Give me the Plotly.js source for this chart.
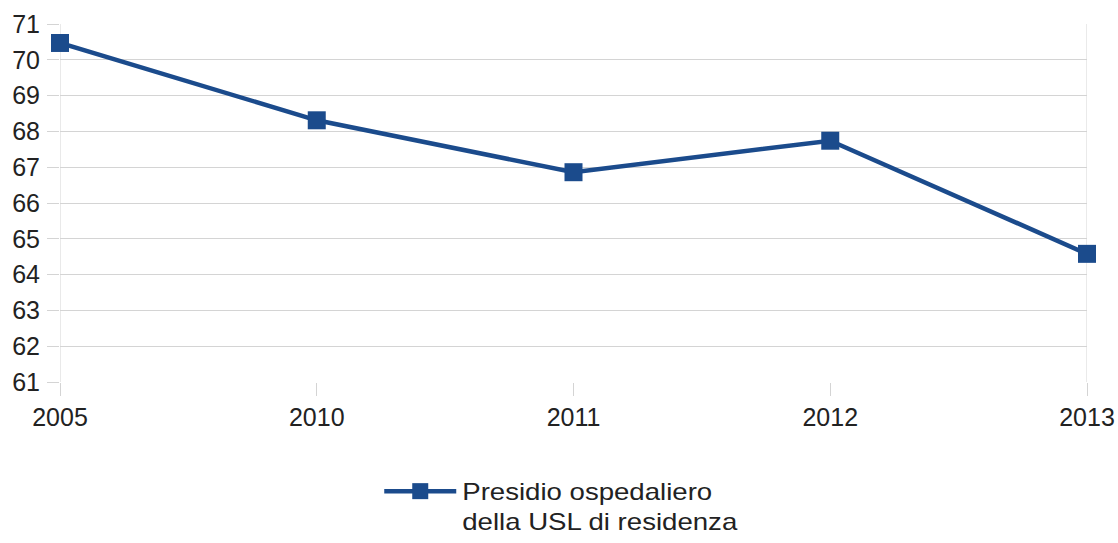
<!DOCTYPE html>
<html>
<head>
<meta charset="utf-8">
<script src="https://cdn.plot.ly/plotly-3.0.1.min.js"></script>
<style>
  html, body { margin: 0; padding: 0; background: #ffffff; }
  #chart { width: 1118px; height: 543px; }
  /* voce di legenda: linea più lunga e testo più largo */
  #chart .legend .scrollbox { clip-path: none !important; }
  #chart .legend .legendlines path {
    transform-box: fill-box;
    transform-origin: center;
    transform: scaleX(2.4);
  }
  #chart .legend .legendtext {
    transform-box: fill-box;
    transform-origin: left center;
    transform: translateX(22px) scaleX(1.2);
  }
</style>
</head>
<body>
<div id="chart"></div>
<script>
// Anni e valori della serie
const years = ['2005', '2010', '2011', '2012', '2013'];
const values = [70.47, 68.31, 66.86, 67.74, 64.58];
const seriesName = 'Presidio ospedaliero<br>della USL di residenza';
const yTicks = [61, 62, 63, 64, 65, 66, 67, 68, 69, 70, 71];

const lineColor = '#1b4b8c';
const textColor = '#222222';
const gridColor = '#d4d4d4';

const trace = {
  type: 'scatter',
  mode: 'lines+markers',
  x: years,
  y: values,
  name: seriesName,
  cliponaxis: false,
  line: { color: lineColor, width: 4.5 },
  marker: { symbol: 'square', size: 18, color: lineColor },
  showlegend: true
};

const layout = {
  width: 1118,
  height: 543,
  paper_bgcolor: '#ffffff',
  plot_bgcolor: '#ffffff',
  margin: { l: 60, r: 31, t: 24, b: 161, autoexpand: false },
  font: { family: 'Liberation Sans, Arial, sans-serif', size: 25, color: textColor },
  xaxis: {
    type: 'category',
    range: [0, 4],
    showgrid: false,
    showline: false,
    zeroline: false,
    ticks: 'outside',
    ticklen: 13,
    tickwidth: 1,
    tickcolor: gridColor,
    tickfont: { size: 25, color: textColor },
    fixedrange: true
  },
  yaxis: {
    range: [61, 71],
    tickvals: yTicks,
    ticktext: yTicks.map(String),
    showgrid: true,
    gridcolor: gridColor,
    gridwidth: 1,
    zeroline: false,
    showline: false,
    ticks: 'outside',
    ticklen: 12,
    tickwidth: 1,
    tickcolor: gridColor,
    ticklabelstandoff: 2,
    tickfont: { size: 25, color: textColor },
    fixedrange: true
  },
  shapes: [
    // bordi verticali dell'area del grafico
    { type: 'line', xref: 'x', yref: 'paper', x0: 0, x1: 0, y0: 0, y1: 1, line: { color: gridColor, width: 1 }, layer: 'below' },
    { type: 'line', xref: 'x', yref: 'paper', x0: 4, x1: 4, y0: 0, y1: 1, line: { color: gridColor, width: 1 }, layer: 'below' }
  ],
  showlegend: true,
  legend: {
    orientation: 'h',
    xref: 'container',
    yref: 'container',
    x: 0.358,
    xanchor: 'left',
    y: 0.135,
    yanchor: 'top',
    valign: 'top',
    entrywidth: 380,
    entrywidthmode: 'pixels',
    font: { size: 23, color: textColor },
    bgcolor: 'rgba(0,0,0,0)'
  }
};

Plotly.newPlot('chart', [trace], layout, { displayModeBar: false, staticPlot: true });
</script>
</body>
</html>
